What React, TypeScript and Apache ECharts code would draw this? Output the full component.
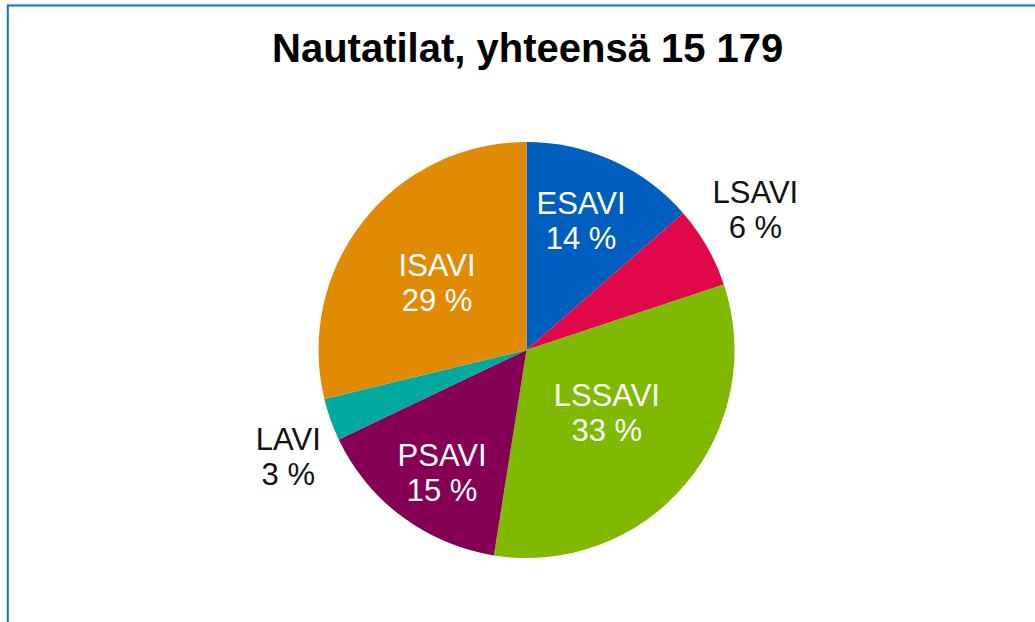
import React, { useEffect, useRef } from "react";
import * as echarts from "echarts";

const TITLE = "Nautatilat, yhteensä 15 179";
const categories = ["ESAVI", "LSAVI", "LSSAVI", "PSAVI", "LAVI", "ISAVI"];
const farmCounts = [2060, 960, 4950, 2340, 500, 4369];
const colors = ["#005EBE", "#E0084A", "#80BA00", "#850055", "#00A99D", "#E18A04"];
// label style per slice: inside (white) or outside (black), radial distance (fraction of radius), angular nudge (deg)
const labelInside = [true, false, true, true, false, true];
const labelRadiusFrac = [0.673, 1.29, 0.49, 0.717, 1.255, 0.537];
const labelAngleNudge = [-1.5, -1.7, -2.3, -2.3, -4.6, -1.4];

const CX = 526.5;
const CY = 350;
const R = 208;

export default function App() {
  const ref = useRef<HTMLDivElement>(null);
  useEffect(() => {
    if (!ref.current) return;
    const chart = echarts.init(ref.current, undefined, { renderer: "svg" });
    const total = farmCounts.reduce((a, b) => a + b, 0);
    const midAngles: number[] = [];
    let cum = 0;
    farmCounts.forEach((v) => {
      midAngles.push(((cum + v / 2) / total) * Math.PI * 2);
      cum += v;
    });
    const font = "'Liberation Sans', Arial, sans-serif";
    chart.setOption({
      animation: false,
      backgroundColor: "#ffffff",
      title: {
        text: TITLE,
        left: 272,
        top: 28,
        padding: 0,
        textStyle: {
          fontFamily: font,
          fontSize: 40,
          fontWeight: "bold",
          color: "#000000",
          lineHeight: 40,
        },
      },
      graphic: [
        { type: "line", shape: { x1: 6, y1: 4, x2: 1035, y2: 4 }, style: { stroke: "#D6E2EE", lineWidth: 1 } },
        { type: "line", shape: { x1: 7, y1: 5.5, x2: 1035, y2: 5.5 }, style: { stroke: "#0B77C5", lineWidth: 2 } },
        { type: "line", shape: { x1: 7.8, y1: 5, x2: 7.8, y2: 622 }, style: { stroke: "#0B77C5", lineWidth: 2 } },
      ],
      series: [
        {
          type: "pie",
          center: [CX, CY],
          radius: R,
          startAngle: 90,
          clockwise: true,
          avoidLabelOverlap: false,
          label: {
            show: true,
            fontFamily: font,
            fontSize: 31,
            lineHeight: 35,
            formatter: (p: any) => `${p.name}\n${Math.round((p.value / total) * 100)} %`,
          },
          labelLine: { show: false },
          labelLayout: (p: any) => {
            const i = p.dataIndex;
            const a = midAngles[i] + (labelAngleNudge[i] * Math.PI) / 180;
            const d = labelRadiusFrac[i] * R;
            return {
              x: CX + d * Math.sin(a),
              y: CY - d * Math.cos(a),
              align: "center",
              verticalAlign: "middle",
            };
          },
          data: categories.map((name, i) => ({
            name,
            value: farmCounts[i],
            itemStyle: { color: colors[i], borderWidth: 0 },
            label: {
              position: labelInside[i] ? "inside" : "outside",
              color: labelInside[i] ? "#ffffff" : "#111111",
            },
          })),
          emphasis: { disabled: true },
        },
      ],
    });
    return () => chart.dispose();
  }, []);
  return (
    <div
      ref={ref}
      style={{ position: "absolute", left: 0, top: 0, width: 1035, height: 622 }}
    />
  );
}
